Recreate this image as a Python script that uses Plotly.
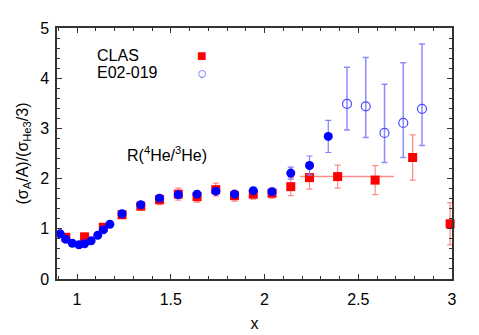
import plotly.graph_objects as go

# CLAS ratio points
clas_x = [0.94, 1.04, 1.14, 1.24, 1.34, 1.44, 1.54, 1.64, 1.74, 1.84, 1.94, 2.04,
          2.14, 2.24, 2.39, 2.59, 2.79, 2.99]
clas_y = [0.83, 0.84, 1.03, 1.28, 1.45, 1.58, 1.69, 1.64, 1.78, 1.66, 1.69, 1.71,
          1.84, 2.02, 2.04, 1.97, 2.42, 1.10]
clas_err = [0.05, 0.05, 0.06, 0.07, 0.08, 0.10, 0.12, 0.11, 0.13, 0.11, 0.10, 0.10,
            0.18, 0.23, 0.23, 0.29, 0.45, 0.42]
clas_xerr_plus = [0, 0, 0, 0, 0, 0, 0, 0, 0, 0, 0, 0, 0, 0, 0.30, 0, 0, 0]
clas_xerr_minus = [0, 0, 0, 0, 0, 0, 0, 0, 0, 0, 0, 0, 0, 0, 0.20, 0, 0, 0]

# E02-019 (filled)
e02_x = [0.91, 0.94, 0.975, 1.01, 1.04, 1.075, 1.11, 1.14, 1.175, 1.24, 1.34, 1.44,
         1.54, 1.64, 1.74, 1.84, 1.94, 2.04, 2.14, 2.24, 2.34]
e02_y = [0.90, 0.79, 0.71, 0.68, 0.70, 0.76, 0.87, 0.98, 1.09, 1.30, 1.48, 1.61,
         1.68, 1.69, 1.75, 1.69, 1.76, 1.74, 2.11, 2.26, 2.84]
e02_err = [0.02, 0.02, 0.02, 0.02, 0.02, 0.02, 0.02, 0.02, 0.03, 0.03, 0.04, 0.05,
           0.05, 0.05, 0.05, 0.05, 0.05, 0.06, 0.12, 0.19, 0.32]

# E02-019 (open, high x)
e02o_x = [2.44, 2.54, 2.64, 2.74, 2.84]
e02o_y = [3.49, 3.44, 2.91, 3.11, 3.39]
e02o_up = [0.73, 0.97, 0.97, 1.20, 1.29]
e02o_dn = [0.52, 0.62, 0.59, 0.69, 0.73]

FONT = "Liberation Sans, Arial, sans-serif"

fig = go.Figure()

fig.add_trace(go.Scatter(
    x=clas_x, y=clas_y, mode='markers', name='CLAS',
    marker=dict(symbol='square', size=9, color='#ff0000'),
    error_y=dict(type='data', array=clas_err, color='#ff8a8a', thickness=1.2, width=3),
    error_x=dict(type='data', array=clas_xerr_plus, arrayminus=clas_xerr_minus,
                 symmetric=False, color='#ff8a8a', thickness=1.5, width=0),
    cliponaxis=False))

fig.add_trace(go.Scatter(
    x=e02_x, y=e02_y, mode='markers', name='E02-019', showlegend=False,
    marker=dict(symbol='circle', size=9, color='#0000ff'),
    error_y=dict(type='data', array=e02_err, color='#8080ff', thickness=1.2, width=3),
    cliponaxis=False))

fig.add_trace(go.Scatter(
    x=e02o_x, y=e02o_y, mode='markers', name='E02-019',
    marker=dict(symbol='circle-open', size=9, color='#4a4aff', line=dict(width=1.2)),
    error_y=dict(type='data', array=e02o_up, arrayminus=e02o_dn, symmetric=False,
                 color='#8c8cff', thickness=1.5, width=3),
    cliponaxis=False))

axis_common = dict(
    showline=True, linecolor='#333', linewidth=1.5, mirror='allticks',
    ticks='inside', ticklen=5, tickcolor='#333', tickwidth=1,
    showgrid=False, zeroline=False,
    tickfont=dict(family=FONT, size=16, color='black'),
)

fig.update_xaxes(range=[0.893, 3.0], tick0=1, dtick=0.5, ticklabelstandoff=5,
                 minor=dict(dtick=0.1, tick0=1, ticks='inside', ticklen=3, tickcolor='#333'),
                 title=dict(text='x', font=dict(family=FONT, size=16), standoff=11),
                 **axis_common)
fig.update_yaxes(range=[0, 5], tick0=0, dtick=1, ticklabelstandoff=3,
                 minor=dict(dtick=0.2, ticks='inside', ticklen=3, tickcolor='#333'),
                 title=dict(text='(σ<sub>A</sub>/A)/(σ<sub>He3</sub>/3)',
                            font=dict(family=FONT, size=16), standoff=8),
                 **axis_common)

# legend drawn as text entries (label left, symbol right)
fig.add_annotation(x=0.096, y=0.89, xref='paper', yref='paper', xanchor='left',
                   yanchor='middle', text='CLAS', showarrow=False,
                   font=dict(family=FONT, size=16))
fig.add_annotation(x=0.096, y=0.822, xref='paper', yref='paper', xanchor='left',
                   yanchor='middle', text='E02-019', showarrow=False,
                   font=dict(family=FONT, size=16))
fig.add_annotation(x=0.367, y=0.89, xref='paper', yref='paper', xanchor='center',
                   yanchor='middle', text='■', showarrow=False,
                   font=dict(family=FONT, size=16, color='#ff0000'))
fig.add_annotation(x=0.367, y=0.82, xref='paper', yref='paper', xanchor='center',
                   yanchor='middle', text='○', showarrow=False,
                   font=dict(family=FONT, size=17, color='#6a6aff'))

fig.add_annotation(x=1.48, y=2.5, text='R(<sup>4</sup>He/<sup>3</sup>He)', showarrow=False,
                   font=dict(family=FONT, size=16))

fig.update_layout(
    width=479, height=335,
    margin=dict(l=49, r=35, t=13, b=64),
    plot_bgcolor='white', paper_bgcolor='white',
    showlegend=False,
    font=dict(family=FONT, size=16, color='black'),
)

fig.write_html("out.html")
